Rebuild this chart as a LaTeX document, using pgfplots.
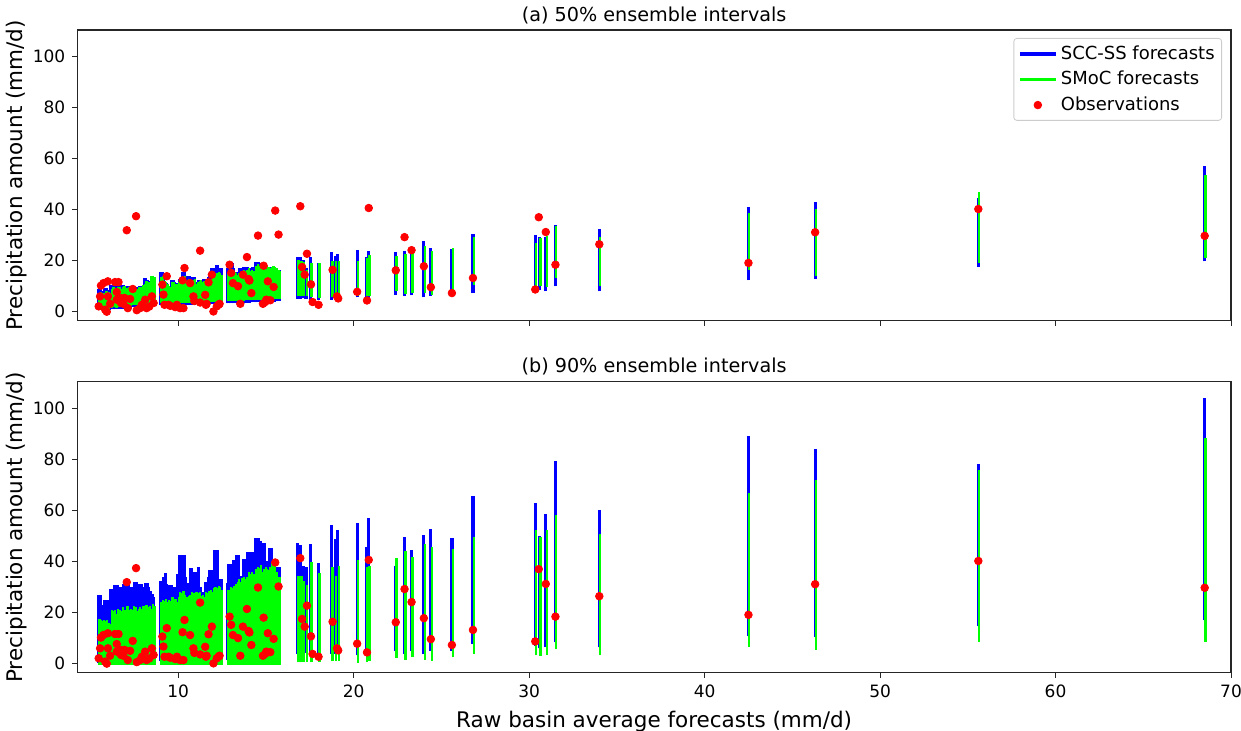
\documentclass[border=0pt]{standalone}
\usepackage{pgfplots}
\pgfplotsset{compat=1.18}
\usepackage{pgfplotstable}
\usepackage{fontspec}
\setmainfont{DejaVu Sans}
\usepgfplotslibrary{groupplots}
\usetikzlibrary{calc}
\definecolor{scc}{RGB}{0,0,255}
\definecolor{smoc}{RGB}{0,255,0}
\definecolor{obsred}{RGB}{255,0,0}
\definecolor{spine}{gray}{0.15}

% forecast intervals: 50% (b5,g5) and 90% (b9,g9), lower/upper
\pgfplotstableread{
x b5l b5h g5l g5h b9l b9h g9l g9h
5.47 0.8 8.9 1.4 7.5 0.3 26.9 -0.5 17.5
5.56 0.8 8.9 1.5 7.8 0.3 26.9 -0.5 17.0
5.64 0.6 8.0 1.2 7.0 0.3 23.1 -0.5 16.5
5.73 0.8 8.0 1.4 7.5 0.3 23.1 -0.5 17.0
5.82 0.7 9.3 1.3 8.2 0.3 25.0 -0.5 16.5
5.91 0.8 9.3 1.6 8.0 0.3 25.0 -0.5 17.0
6.00 0.6 8.4 1.2 7.6 0.3 25.0 -0.5 16.0
6.08 0.8 8.4 1.5 7.4 0.3 23.5 -0.5 15.5
6.17 0.9 10.5 1.6 9.0 0.3 29.3 -0.5 21.0
6.26 1.0 10.0 1.8 9.5 0.4 29.3 -0.5 20.5
6.35 1.0 10.5 1.7 9.2 0.4 30.6 -0.5 21.0
6.44 0.9 9.7 1.5 9.0 0.3 30.6 -0.5 19.5
6.53 1.1 10.5 1.9 9.8 0.4 30.6 -0.5 21.5
6.62 1.0 10.2 1.7 9.5 0.4 30.0 -0.5 21.0
6.71 1.2 9.7 2.0 9.0 0.5 30.0 -0.5 20.5
6.80 1.2 10.6 2.0 9.8 0.5 28.6 -0.5 22.0
6.89 1.3 10.6 2.0 10.0 0.5 31.2 -0.5 21.0
6.98 1.2 10.0 1.9 9.4 0.5 31.2 -0.5 19.0
7.07 1.4 9.9 2.2 9.2 0.5 31.2 -0.5 22.5
7.16 1.5 9.9 2.3 9.5 0.6 31.2 -0.5 21.0
7.25 1.6 9.3 2.4 8.8 0.6 28.6 -0.5 21.5
7.34 1.7 9.8 2.5 9.5 0.6 30.0 -0.5 21.0
7.43 1.8 10.0 2.6 9.7 0.7 30.0 -0.5 22.5
7.52 1.8 9.6 2.6 9.0 0.7 32.0 -0.5 22.0
7.61 1.9 9.2 2.7 8.8 0.7 32.0 -0.5 20.5
7.70 1.9 9.5 2.8 9.6 0.7 26.0 -0.5 21.5
7.79 2.0 10.0 2.8 9.8 0.8 31.2 -0.5 22.0
7.88 2.0 9.8 2.8 9.7 0.8 31.2 -0.5 21.5
7.97 2.1 10.2 2.9 10.5 0.8 28.6 -0.5 22.5
8.06 2.1 13.2 2.9 11.0 0.8 30.0 -0.5 21.0
8.15 2.2 13.2 3.0 12.0 0.9 31.5 -0.5 23.0
8.24 2.2 12.5 3.0 11.5 0.9 31.5 -0.5 22.0
8.33 2.2 11.9 3.0 11.8 0.9 30.0 -0.5 22.5
8.42 2.3 11.9 3.1 13.9 0.9 28.6 -0.5 21.5
8.51 2.3 11.5 3.1 13.9 1.0 27.3 -0.5 23.5
8.60 2.3 11.9 3.1 13.4 1.0 26.0 -0.5 22.5
8.99 2.5 15.7 3.3 13.5 1.0 32.5 -0.5 24.0
9.08 2.5 15.7 3.3 14.0 1.0 32.5 -0.5 25.0
9.17 2.4 13.0 3.2 12.0 1.0 34.0 -0.5 24.5
9.26 2.4 11.2 3.2 11.5 1.0 35.6 -0.5 25.5
9.35 2.5 11.2 3.3 10.8 1.0 31.2 -0.5 24.0
9.44 2.5 9.9 3.3 10.2 1.0 30.6 -0.5 25.0
9.53 2.4 9.9 3.2 9.5 1.0 30.6 -0.5 24.5
9.62 2.4 12.5 3.2 11.5 1.0 30.6 -0.5 26.0
9.71 2.5 12.5 3.3 11.8 1.0 30.0 -0.5 25.0
9.80 2.5 11.5 3.3 11.0 1.0 29.9 -0.5 25.5
9.89 2.6 11.2 3.4 10.8 1.1 29.9 -0.5 24.0
9.98 2.6 11.2 3.4 11.5 1.1 35.0 -0.5 26.0
10.07 2.6 13.0 3.4 12.0 1.1 42.4 -0.5 28.0
10.16 2.7 12.5 3.5 12.5 1.1 42.4 -0.5 27.5
10.25 2.7 15.7 3.5 13.5 1.1 41.5 -0.5 28.5
10.34 2.7 15.7 3.5 13.8 1.1 42.4 -0.5 27.0
10.43 2.7 11.5 3.5 12.0 1.2 34.0 -0.5 26.0
10.55 2.7 13.9 3.5 13.0 1.2 31.5 -0.5 26.5
10.64 2.8 13.9 3.6 12.5 1.2 29.9 -0.5 27.0
10.73 2.8 12.5 3.6 12.0 1.2 37.5 -0.5 28.0
10.82 2.8 13.5 3.6 12.5 1.2 31.2 -0.5 27.5
10.91 2.8 13.5 3.6 13.0 1.2 35.8 -0.5 27.0
11.00 2.9 11.5 3.7 11.0 1.3 35.8 -0.5 28.0
11.09 2.9 11.5 3.7 11.5 1.3 33.0 -0.5 27.5
11.18 2.9 12.5 3.7 12.0 1.3 37.8 -0.5 28.0
11.27 2.9 12.5 3.7 12.5 1.3 30.0 -0.5 26.5
11.36 3.0 12.0 3.8 11.5 1.3 28.0 -0.5 27.0
11.45 3.0 12.8 3.8 12.0 1.3 27.9 -0.5 26.0
11.54 3.0 12.8 3.8 12.5 1.4 31.9 -0.5 28.0
11.63 3.0 12.0 3.8 12.0 1.4 31.9 -0.5 27.5
11.72 3.0 13.5 3.8 13.0 1.4 33.9 -0.5 28.5
11.81 3.1 14.0 3.9 13.0 1.4 36.5 -0.5 29.0
11.90 3.1 17.1 3.9 15.0 1.4 36.5 -0.5 28.0
11.99 3.1 17.1 3.9 15.5 1.5 35.2 -0.5 29.5
12.08 3.1 15.0 3.9 14.5 1.5 44.6 -0.5 30.0
12.17 3.2 18.4 4.0 15.0 1.5 44.6 -0.5 29.5
12.26 3.2 18.4 4.0 15.5 1.5 44.6 -0.5 30.5
12.35 3.2 17.1 4.0 15.0 1.5 33.2 -0.5 30.0
12.44 3.2 17.1 4.0 14.5 1.5 33.2 -0.5 29.0
12.80 3.3 17.1 4.1 15.5 1.6 31.5 -0.5 28.9
12.89 3.3 19.1 4.1 16.0 1.6 39.1 -0.5 29.0
12.98 3.3 19.1 4.1 16.5 1.6 39.1 -0.5 30.0
13.07 3.4 19.1 4.2 16.0 1.6 39.1 -0.5 29.5
13.16 3.4 17.0 4.2 15.5 1.6 40.4 -0.5 30.5
13.25 3.4 15.7 4.2 15.0 1.7 40.4 -0.5 31.0
13.34 3.4 15.7 4.2 14.5 1.7 42.6 -0.5 32.0
13.43 3.5 15.7 4.3 15.0 1.7 42.6 -0.5 33.0
13.52 3.5 17.1 4.3 15.5 1.7 34.5 -0.5 32.0
13.61 3.5 17.1 4.3 16.0 1.7 34.5 -0.5 33.5
13.70 3.5 17.7 4.3 16.5 1.8 41.0 -0.5 34.0
13.79 3.6 17.7 4.4 16.0 1.8 41.0 -0.5 33.0
13.88 3.6 17.7 4.4 16.5 1.8 41.0 -0.5 34.0
13.97 3.6 17.7 4.4 17.0 1.8 43.7 -0.5 36.0
14.06 3.6 17.0 4.4 16.0 1.8 43.7 -0.5 35.0
14.15 3.7 17.0 4.5 16.5 1.9 43.7 -0.5 36.0
14.24 3.7 17.5 4.5 16.0 1.9 43.7 -0.5 35.0
14.40 3.7 19.6 4.5 18.0 1.9 49.3 -0.5 37.0
14.49 3.8 19.6 4.6 18.5 1.9 49.3 -0.5 38.0
14.58 3.8 19.6 4.6 18.0 2.0 49.3 -0.5 37.5
14.67 3.8 18.5 4.6 17.5 2.0 48.0 -0.5 38.5
14.76 3.8 19.0 4.6 18.0 2.0 31.9 -0.5 36.0
14.85 3.9 19.0 4.7 18.5 2.0 47.2 -0.5 37.0
14.94 3.9 19.0 4.7 19.0 2.0 47.2 -0.5 38.0
15.03 3.9 18.0 4.7 18.0 2.1 40.0 -0.5 37.0
15.12 3.9 17.1 4.7 17.5 2.1 40.0 -0.5 36.5
15.21 4.0 17.1 4.8 17.0 2.1 45.3 -0.5 38.0
15.30 4.0 17.5 4.8 17.5 2.1 45.3 -0.5 39.7
15.39 4.0 17.5 4.8 18.0 2.1 40.4 -0.5 39.7
15.48 4.0 17.1 4.8 17.5 2.2 40.4 -0.5 40.0
15.57 4.1 17.1 4.9 17.0 2.2 36.7 -0.5 36.0
15.66 4.1 16.5 4.9 16.5 2.2 37.8 -0.5 34.0
15.75 4.1 16.5 4.9 16.0 2.2 37.8 -0.5 33.9
16.80 5.0 21.4 6.0 20.4 3.8 47.3 0.5 34.5
16.97 5.0 21.4 6.0 20.0 3.8 46.3 0.5 34.5
17.12 5.2 20.4 6.2 19.5 4.0 38.1 0.8 32.5
17.28 5.0 17.1 6.0 16.5 4.0 37.8 0.8 30.6
17.55 4.7 21.4 5.8 19.1 3.8 46.7 0.5 39.7
18.00 4.4 19.1 5.4 19.1 3.5 39.3 0.8 35.4
18.75 4.7 23.3 5.8 20.0 3.8 54.4 1.0 37.8
18.95 4.8 22.0 5.8 19.8 3.8 48.8 1.0 34.5
19.10 5.0 22.5 6.0 19.8 3.8 52.4 1.0 38.4
20.20 5.6 24.0 6.0 19.8 3.2 55.0 0.4 40.4
20.72 5.0 21.5 6.0 21.0 3.5 45.6 0.8 37.8
20.85 4.8 23.7 6.0 22.3 1.8 57.1 1.2 38.4
22.40 6.7 23.3 8.0 22.0 5.1 38.4 2.2 41.4
22.90 6.0 23.7 7.0 22.5 3.8 49.5 1.5 44.1
23.30 6.4 24.6 7.4 23.5 5.1 44.6 2.5 41.8
24.00 5.6 27.6 7.4 25.6 3.8 50.2 1.5 46.9
24.40 6.2 25.0 6.7 23.7 5.1 52.8 1.2 45.6
25.60 6.2 24.6 7.3 25.0 5.1 49.1 2.5 44.8
26.80 7.3 30.5 10.5 29.3 7.7 65.6 3.8 49.5
30.35 7.6 30.2 8.6 26.9 7.1 63.0 3.2 52.4
30.60 8.4 29.3 10.0 28.9 6.0 50.0 3.0 49.5
30.95 8.0 29.3 9.5 29.8 6.5 58.7 3.5 52.2
31.50 9.9 34.1 13.2 33.7 8.4 79.2 5.7 58.0
34.00 8.0 32.2 10.0 29.3 6.4 60.2 3.2 50.6
42.50 12.3 40.9 16.5 38.7 11.0 89.0 6.7 66.8
46.30 12.8 43.0 14.1 40.4 10.6 83.9 5.4 72.0
55.60 17.5 44.6 19.0 46.9 14.9 78.3 8.4 76.0
68.50 19.7 57.0 21.0 53.7 16.9 104.0 8.4 88.4
}\fcst

% observed basin average precipitation
\pgfplotstableread{
x y
5.47 2.1
5.55 6.0
5.60 10.2
5.74 11.2
5.84 0.8
5.93 0.0
5.99 11.9
6.00 6.0
6.12 3.1
6.40 11.6
6.50 4.7
6.50 7.7
6.60 11.6
6.69 5.4
6.74 3.4
6.88 3.1
6.94 5.4
7.07 31.9
7.13 1.4
7.26 5.0
7.41 8.9
7.60 37.4
7.64 0.6
7.83 1.4
7.93 2.7
8.12 4.7
8.20 1.4
8.35 2.0
8.50 6.0
8.60 3.4
9.10 10.6
9.16 6.7
9.22 2.7
9.35 13.9
9.45 2.7
9.55 2.3
9.83 1.8
9.93 2.7
10.11 1.4
10.25 12.3
10.30 1.4
10.36 17.1
10.68 11.2
10.87 6.0
10.92 4.2
11.25 23.9
11.25 3.6
11.54 6.6
11.58 2.7
11.62 3.1
11.73 11.5
11.92 14.5
12.01 0.1
12.20 2.1
12.30 2.7
12.36 3.1
12.93 18.4
13.02 15.2
13.12 11.2
13.41 10.0
13.54 3.1
13.69 14.5
13.92 21.4
14.01 12.8
14.06 12.2
14.17 7.3
14.55 29.8
14.83 3.1
14.87 18.0
14.96 3.8
15.02 4.7
15.11 11.9
15.25 4.5
15.44 9.7
15.53 39.6
15.72 30.2
16.96 41.3
17.06 17.5
17.21 14.5
17.34 22.7
17.57 10.7
17.66 3.8
18.00 2.7
18.80 16.4
19.05 6.0
19.12 5.2
20.20 7.8
20.76 4.4
20.86 40.6
22.40 16.2
22.90 29.2
23.30 24.1
24.00 17.8
24.40 9.6
25.60 7.3
26.80 13.2
30.35 8.7
30.55 37.0
30.95 31.2
31.50 18.4
34.00 26.4
42.50 19.1
46.30 31.1
55.60 40.2
68.50 29.7
}\obsv

\begin{document}
\begin{tikzpicture}
\begin{groupplot}[
  group style={group size=1 by 2, vertical sep=30.5pt},
  width=577pt, height=145.5pt, scale only axis,
  xmin=4.25, xmax=70, ymin=-3.6, ymax=110.3,
  xtick={10,20,...,70}, ytick={0,20,...,100},
  tick pos=left, tick align=outside, major tick length=2.5pt,
  tick style={spine, line width=0.45pt},
  axis line style={spine, line width=0.55pt},
  tick label style={font=\fontsize{8.5}{10}\selectfont},
  /pgf/number format/assume math mode=true,
  title style={font=\fontsize{9.6}{11}\selectfont, inner sep=0pt, yshift=-3pt},
  ylabel={Precipitation amount (mm/d)},
  ylabel style={font=\fontsize{10.75}{12}\selectfont},
  ylabel shift=-4pt,
  xlabel style={font=\fontsize{10.75}{12}\selectfont},
  bar/.style={only marks, mark=*, mark size=0pt, mark options={draw=none, fill=none}, forget plot},
]
\nextgroupplot[title={(a) 50\% ensemble intervals}, xticklabels={},
  legend style={at={(1,1)}, anchor=north east, xshift=-4.5pt, yshift=-4pt,
    draw=black!20, rounded corners=1.5pt, fill=white,
    font=\fontsize{9}{10}\selectfont, row sep=1.5pt,
    nodes={inner sep=1.5pt}, inner xsep=2pt, inner ysep=2pt},
  legend cell align=left]
\addlegendimage{legend image code/.code={\draw[scc, line width=2pt] (0pt,0pt) -- (18pt,0pt);}}
\addlegendentry{SCC-SS forecasts}
\addlegendimage{legend image code/.code={\draw[smoc, line width=1.3pt] (0pt,0pt) -- (18pt,0pt);}}
\addlegendentry{SMoC forecasts}
\addlegendimage{legend image code/.code={\fill[obsred] (9pt,0pt) circle (1.9pt);}}
\addlegendentry{Observations}
\coordinate (tl) at (rel axis cs:0,1);
\addplot[bar, error bars/.cd, y dir=plus, y explicit, error mark=none,
  error bar style={scc, line width=1.6pt}]
  table[x=x, y=b5l, y error expr=\thisrow{b5h}-\thisrow{b5l}] {\fcst};
\addplot[bar, error bars/.cd, y dir=plus, y explicit, error mark=none,
  error bar style={smoc, line width=1.15pt}]
  table[x expr=\thisrow{x}+0.05, y=g5l, y error expr=\thisrow{g5h}-\thisrow{g5l}] {\fcst};
\addplot[only marks, mark=*, mark size=1.9pt, obsred, forget plot]
  table[x=x, y=y] {\obsv};

\nextgroupplot[title={(b) 90\% ensemble intervals},
  xlabel={Raw basin average forecasts (mm/d)}]
\coordinate (br) at (rel axis cs:1,0);
\addplot[bar, error bars/.cd, y dir=plus, y explicit, error mark=none,
  error bar style={scc, line width=1.6pt}]
  table[x=x, y=b9l, y error expr=\thisrow{b9h}-\thisrow{b9l}] {\fcst};
\addplot[bar, error bars/.cd, y dir=plus, y explicit, error mark=none,
  error bar style={smoc, line width=1.15pt}]
  table[x expr=\thisrow{x}+0.05, y=g9l, y error expr=\thisrow{g9h}-\thisrow{g9l}] {\fcst};
\addplot[only marks, mark=*, mark size=1.9pt, obsred, forget plot]
  table[x=x, y=y] {\obsv};
\end{groupplot}
\pgfresetboundingbox
\path ($(tl)+(-38.65pt,15pt)$) rectangle ($(br)+(5pt,-29pt)$);
\end{tikzpicture}
\end{document}
